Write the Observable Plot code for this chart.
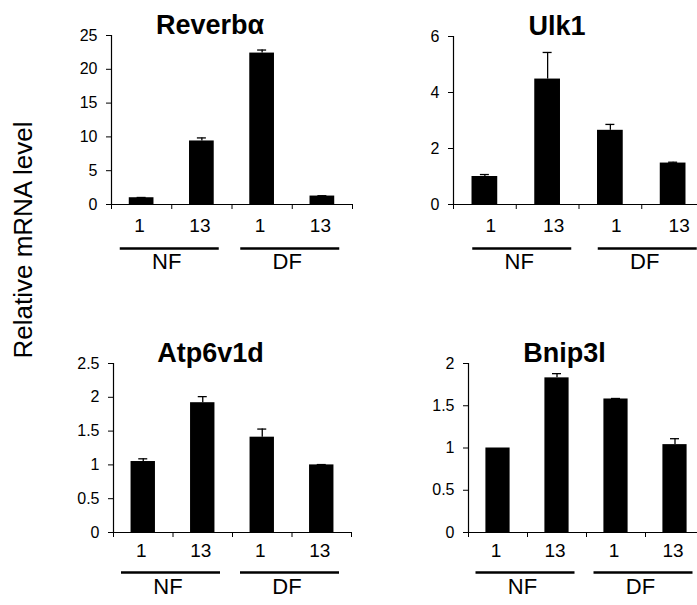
<!DOCTYPE html>
<html>
<head>
<meta charset="utf-8">
<script src="https://cdn.jsdelivr.net/npm/d3@7"></script>
<script src="https://cdn.jsdelivr.net/npm/@observablehq/plot@0.6"></script>
<style>
  html, body { margin: 0; padding: 0; background: #fff; }
  #fig {
    position: relative; width: 697px; height: 605px; overflow: hidden;
    font-family: "Liberation Sans", Arial, sans-serif; color: #000;
  }
  .panel { position: absolute; }
  .panel svg { display: block; max-width: none; }
  #ytitle {
    position: absolute; left: -127px; top: 227px; width: 300px;
    font-size: 26px; line-height: 26px; text-align: center;
    transform: rotate(-90deg); transform-origin: 50% 50%; white-space: nowrap;
  }
</style>
</head>
<body>
<div id="fig"><div id="ytitle">Relative mRNA level</div></div>
<script>
// Conditions along the x axis: feeding day within feeding regime
const days = ["1", "13", "1", "13"];
const feeding = ["NF", "NF", "DF", "DF"];
const groups = ["NF", "DF"];

// Relative mRNA level (mean) and upper error (SEM) per gene
const reverbaMean = [1.0, 9.4, 22.4, 1.25];
const reverbaErr  = [0.04, 0.45, 0.45, 0.05];
const ulk1Mean    = [1.0, 4.48, 2.65, 1.48];
const ulk1Err     = [0.07, 0.95, 0.21, 0.03];
const atpMean     = [1.05, 1.92, 1.41, 1.0];
const atpErr      = [0.04, 0.09, 0.12, 0.005];
const bnipMean    = [1.0, 1.83, 1.58, 1.04];
const bnipErr     = [0, 0.05, 0.006, 0.07];

// Y axis ticks per gene
const reverbaTicks = [0, 5, 10, 15, 20, 25];
const ulk1Ticks    = [0, 2, 4, 6];
const atpTicks     = [0, 0.5, 1, 1.5, 2, 2.5];
const bnipTicks    = [0, 0.5, 1, 1.5, 2];

const font = `"Liberation Sans", Arial, sans-serif`;
const topRow = {day: 27, line: 44, group: 64};
const bottomRow = {day: 24, line: 40, group: 61};

const panels = [
  {title: "Reverbα", mean: reverbaMean, err: reverbaErr, ticks: reverbaTicks,
   box: {x: 40, y: 0, w: 320, h: 290}, m: {l: 71, r: 8, t: 35, b: 86}, row: topRow, shift: -2},
  {title: "Ulk1", mean: ulk1Mean, err: ulk1Err, ticks: ulk1Ticks,
   box: {x: 380, y: 0, w: 330, h: 290}, m: {l: 73, r: 6, t: 36, b: 86}, row: topRow, shift: 6},
  {title: "Atp6v1d", mean: atpMean, err: atpErr, ticks: atpTicks,
   box: {x: 40, y: 310, w: 320, h: 295}, m: {l: 73, r: 9, t: 53, b: 73}, row: bottomRow, shift: -2},
  {title: "Bnip3l", mean: bnipMean, err: bnipErr, ticks: bnipTicks,
   box: {x: 390, y: 310, w: 320, h: 295}, m: {l: 78, r: 6, t: 53, b: 73}, row: bottomRow, shift: -2}
];

function drawPanel({title, mean, err, ticks, box, m, row, shift}) {
  const rows = days.map((d, i) => ({i, day: d, group: feeding[i], mean: mean[i], err: err[i]}));
  const grp = groups.map(g => {
    const idx = rows.filter(r => r.group === g).map(r => r.i);
    return {g, mid: (d3.min(idx) + d3.max(idx) + 1) / 2};
  });
  const withErr = rows.filter(r => r.err > 0);
  const band = (box.w - m.l - m.r) / days.length;
  const inset = band * (1 - 0.41) / 2;
  const center = r => r.i + 0.5;

  const svg = Plot.plot({
    width: box.w, height: box.h,
    marginLeft: m.l, marginRight: m.r, marginTop: m.t, marginBottom: m.b,
    x: {domain: [0, days.length]},
    y: {domain: [0, d3.max(ticks)]},
    style: {fontFamily: font, color: "#000", background: "transparent", overflow: "visible"},
    marks: [
      Plot.rectY(rows, {x1: "i", x2: r => r.i + 1, y: "mean", fill: "#000", insetLeft: inset, insetRight: inset}),
      Plot.ruleX(withErr, {x: center, y1: "mean", y2: r => r.mean + r.err, stroke: "#000", strokeWidth: 1.3}),
      Plot.ruleY(withErr, {x1: center, x2: center, y: r => r.mean + r.err, stroke: "#000", strokeWidth: 1.3,
                           insetLeft: -4.5, insetRight: -4.5}),
      Plot.axisY({ticks, tickFormat: d3.format("~g"), tickSize: 5, tickPadding: 9, fontSize: 16, label: null}),
      Plot.ruleX([0], {stroke: "#000", strokeWidth: 1.2}),
      Plot.axisX({ticks: d3.range(days.length + 1), tickFormat: () => "", tickSize: 5, label: null}),
      Plot.ruleY([0], {stroke: "#000", strokeWidth: 1.2}),
      Plot.text(rows, {x: center, frameAnchor: "bottom", dy: row.day, dx: shift, text: "day", fontSize: 19}),
      Plot.ruleY(grp, {x1: "mid", x2: "mid", y: () => 0, dy: row.line, dx: shift, stroke: "#000", strokeWidth: 2.6,
                       insetLeft: -49.5, insetRight: -49.5}),
      Plot.text(grp, {x: "mid", frameAnchor: "bottom", dy: row.group, dx: shift - 3, text: "g", fontSize: 22}),
      Plot.text([title], {frameAnchor: "top", lineAnchor: "bottom", dy: -2, dx: -22, text: d => d,
                          fontSize: 27, fontWeight: "bold"})
    ]
  });

  const holder = document.createElement("div");
  holder.className = "panel";
  holder.style.left = box.x + "px";
  holder.style.top = box.y + "px";
  holder.style.width = box.w + "px";
  holder.style.height = box.h + "px";
  holder.appendChild(svg);
  document.getElementById("fig").appendChild(holder);
}

panels.forEach(drawPanel);
</script>
</body>
</html>
